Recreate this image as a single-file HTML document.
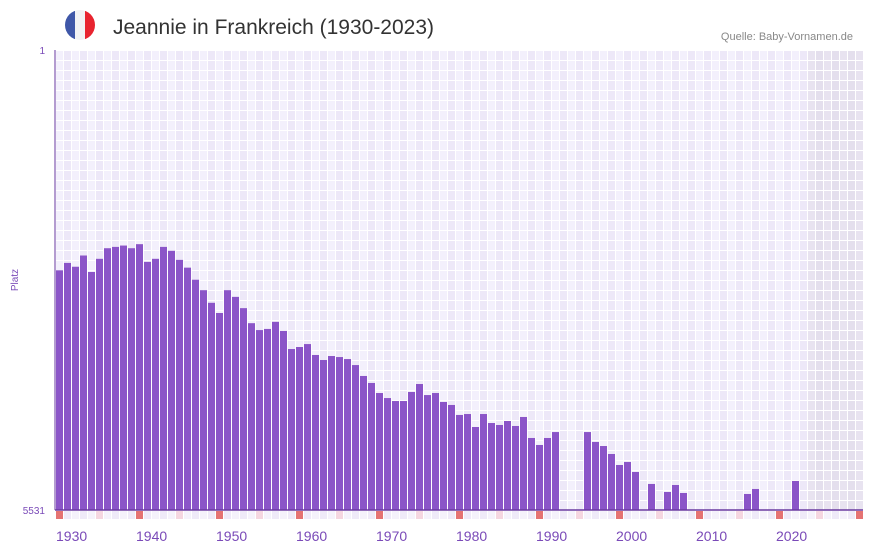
<!DOCTYPE html>
<html><head><meta charset="utf-8"><style>
body{margin:0;background:#fff;width:873px;height:552px;overflow:hidden;font-family:"Liberation Sans",sans-serif}
</style></head><body>
<svg id="c" width="873" height="552" xmlns="http://www.w3.org/2000/svg">
<g>
<clipPath id="fc"><circle cx="80" cy="25" r="15"/></clipPath>
<g clip-path="url(#fc)"><rect x="65" y="10" width="10" height="30" fill="#3f57a8"/><rect x="75" y="10" width="10" height="30" fill="#f2f2f4"/><rect x="85" y="10" width="10" height="30" fill="#e8242f"/></g>
</g>
<text x="113" y="34" font-size="21" fill="#333">Jeannie in Frankreich (1930-2023)</text>
<text x="853" y="40" font-size="11" fill="#888" text-anchor="end">Quelle: Baby-Vornamen.de</text>
<text x="18" y="280" font-size="10" fill="#7a4ab8" text-anchor="middle" transform="rotate(-90 18 280)">Platz</text>
<g id="grid"></g>
<g id="bars"></g>
<g id="axes"></g>
</svg>
<script>
const years = [];
for (let y = 1930; y <= 2030; y++) years.push(y);
const ranks = [62,54,58,47,64,50,41,40,39,41,38,53,50,40,43,51,59,74,90,114,
138,90,102,126,167,190,186,163,193,271,261,247,303,333,309,315,327,366,449,512,
618,679,718,718,606,522,642,618,731,773,932,916,1168,916,1084,1125,1044,1146,968,1435,
1636,1435,1284,null,null,null,1284,1547,1668,1937,2380,2251,2713,null,3395,null,3946,3462,4021,null,
null,null,null,null,null,null,4097,3730,null,null,null,null,3211,null];
const yTicks = [1, 5531];
const xTickLabels = [1930,1940,1950,1960,1970,1980,1990,2000,2010,2020];
const lastDataYear = 2023;

const NS="http://www.w3.org/2000/svg";
const X0=55, STEP=8, Y0=50, Y1=510;
const maxRank = 5531;
function xs(year){return X0+(year-1930)*STEP;}
function ys(r){return Y0+(Y1-Y0)*Math.log(r)/Math.log(maxRank);}
function mk(tag,attrs,parent){const e=document.createElementNS(NS,tag);for(const k in attrs)e.setAttribute(k,attrs[k]);parent.appendChild(e);return e;}
const grid=document.getElementById('grid'), bars=document.getElementById('bars'), axes=document.getElementById('axes');
years.forEach((yr,i)=>{
  const x=xs(yr);
  const shaded=yr>lastDataYear;
  const col=shaded?(i%2?'#e4dfed':'#e8e3f0'):(i%2?'#ede8f8':'#f3f0fc');
  for(let y=Y0;y<Y1;y+=10){
    const c=mk('rect',{x:x+1,y:y+1,width:STEP-1,height:9,fill:col},grid);
    
    
  }
  let mc=i%2?'#efeaf8':'#f5f2fb';
  if(yr%10===0) mc='#e57373'; else if(yr%5===0) mc='#f5d6e0';
  const m=mk('rect',{x:x+1,y:Y1+1,width:STEP-1,height:8,fill:mc},grid);
  
  
  const r=ranks[i];
  if(r!=null && r!==undefined){
    const t=ys(r);
    const b=mk('rect',{x:x+1,y:t,width:STEP-1,height:Y1-t,fill:'#8b55c8'},bars);
    
    
  }
});
const la=mk('line',{x1:X0,y1:Y0,x2:X0,y2:Y1,stroke:'#6a3aa0','stroke-width':1},axes);


const lb=mk('line',{x1:X0,y1:Y1,x2:863,y2:Y1,stroke:'#6a3aa0','stroke-width':1.5},axes);


yTicks.forEach(v=>{
  const t=mk('text',{x:45,y:ys(v)+4,'font-size':10,fill:'#7a4ab8','text-anchor':'end'},axes);
  t.textContent=v;
  
  
});
xTickLabels.forEach(v=>{
  const t=mk('text',{x:xs(v)+1,y:541,'font-size':14,fill:'#7a4ab8'},axes);
  t.textContent=v;
  
  
});
</script>
</body></html>
